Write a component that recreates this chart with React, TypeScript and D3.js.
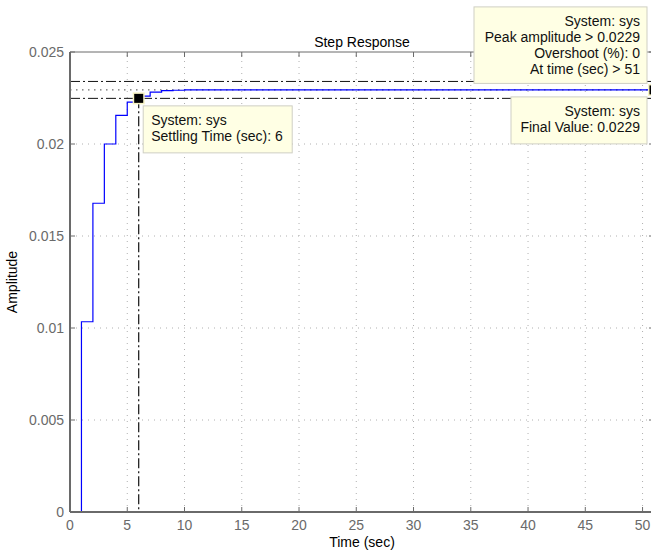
import React from 'react';
import * as d3 from 'd3';

// Step response of the discrete system (sample time 1 s)
const times = [0, 1, 2, 3, 4, 5, 6, 7, 8, 9, 10, 11, 12, 13, 14, 15, 16, 17, 18, 19, 20, 21, 22, 23, 24, 25,
  26, 27, 28, 29, 30, 31, 32, 33, 34, 35, 36, 37, 38, 39, 40, 41, 42, 43, 44, 45, 46, 47, 48, 49, 50, 51];
const amplitude = [0, 0.01034, 0.01678, 0.02, 0.02156, 0.02228, 0.0226, 0.02282, 0.0229, 0.02292, 0.02294,
  0.02294, 0.02294, 0.02294, 0.02294, 0.02294, 0.02294, 0.02294, 0.02294, 0.02294, 0.02294, 0.02294, 0.02294,
  0.02294, 0.02294, 0.02294, 0.02294, 0.02294, 0.02294, 0.02294, 0.02294, 0.02294, 0.02294, 0.02294, 0.02294,
  0.02294, 0.02294, 0.02294, 0.02294, 0.02294, 0.02294, 0.02294, 0.02294, 0.02294, 0.02294, 0.02294, 0.02294,
  0.02294, 0.02294, 0.02294, 0.02294, 0.02294];

const xTicks = [0, 5, 10, 15, 20, 25, 30, 35, 40, 45, 50];
const yTicks = [0, 0.005, 0.01, 0.015, 0.02, 0.025];
const yTickLabels = ['0', '0.005', '0.01', '0.015', '0.02', '0.025'];

const finalValue = 0.02294;
const bandUpper = 0.0234;
const bandLower = 0.02248;
const settlingTime = 6;
const peakTime = 51;

const settlingTip = ['System: sys', 'Settling Time (sec): 6'];
const peakTip = ['System: sys', 'Peak amplitude > 0.0229', 'Overshoot (%): 0', 'At time (sec) > 51'];
const finalTip = ['System: sys', 'Final Value: 0.0229'];

const W = 651;
const H = 554;
const margin = { top: 52, left: 70, bottom: 42 };
const plotRight = 654;

const x = d3.scaleLinear().domain([0, 51]).range([margin.left, plotRight]);
const y = d3.scaleLinear().domain([0, 0.025]).range([H - margin.bottom, margin.top]);

const font = '"Liberation Sans", Arial, Helvetica, sans-serif';
const axisColor = '#6a6a6a';
const tipFill = '#ffffe4';
const tipStroke = '#cfcfc4';

const Tip = ({ left, top, w, h, lines, align }: { left: number; top: number; w: number; h: number; lines: string[]; align: 'start' | 'end' }) => (
  <g>
    <rect x={left} y={top} width={w} height={h} fill={tipFill} stroke={tipStroke} strokeWidth={1} />
    {lines.map((t, i) => (
      <text key={i} x={align === 'start' ? left + 8 : left + w - 7} y={top + 19.5 + i * 16}
        textAnchor={align} fontSize={14} fill="#111">{t}</text>
    ))}
  </g>
);

const Marker = ({ cx, cy }: { cx: number; cy: number }) => (
  <g>
    <rect x={cx - 6} y={cy - 6} width={12} height={12} fill="#f7f3c4" />
    <rect x={cx - 4.5} y={cy - 4.5} width={9} height={9} fill="#000" />
  </g>
);

export default function App() {
  const line = d3.line<number>()
    .x((_, i) => x(times[i]))
    .y(d => y(d))
    .curve(d3.curveStepAfter);

  const y0 = y(0);
  const y1 = y(0.025);
  const sx = x(settlingTime);
  const sy = y(bandLower);
  const px = x(peakTime);
  const py = y(finalValue);

  return (
    <svg width={W} height={H} style={{ position: 'absolute', left: 0, top: 0, background: '#fff' }} fontFamily={font}>
      {/* grid */}
      {xTicks.filter(t => t > 0).map(t => (
        <line key={'gx' + t} x1={x(t)} x2={x(t)} y1={y0} y2={y1} stroke="#b0b0b0" strokeWidth={1} strokeDasharray="1,5" />
      ))}
      {yTicks.filter(t => t > 0 && t < 0.025).map(t => (
        <line key={'gy' + t} x1={margin.left} x2={plotRight} y1={y(t)} y2={y(t)} stroke="#b0b0b0" strokeWidth={1} strokeDasharray="1,5" />
      ))}

      {/* settling band and final value */}
      <line x1={margin.left} x2={plotRight} y1={y(bandUpper)} y2={y(bandUpper)} stroke="#111" strokeDasharray="10,3,2,3" />
      <line x1={margin.left} x2={plotRight} y1={y(bandLower)} y2={y(bandLower)} stroke="#111" strokeDasharray="10,3,2,3" />
      <line x1={sx} x2={sx} y1={sy} y2={y0} stroke="#111" strokeWidth={1.2} strokeDasharray="10,3,2,3" />
      <line x1={margin.left} x2={plotRight} y1={py} y2={py} stroke="#444" strokeDasharray="1.5,4.5" />

      {/* response */}
      <path d={line(amplitude) || ''} fill="none" stroke="#0000ff" strokeWidth={1.2} />

      {/* axes */}
      <line x1={margin.left} x2={plotRight} y1={y0} y2={y0} stroke={axisColor} strokeWidth={2} />
      <line x1={margin.left} x2={plotRight} y1={y1} y2={y1} stroke={axisColor} strokeWidth={1} />
      <line x1={margin.left} x2={margin.left} y1={y0} y2={y1} stroke={axisColor} strokeWidth={2} />
      <line x1={plotRight} x2={plotRight} y1={y0} y2={y1} stroke={axisColor} strokeWidth={1} />
      {xTicks.map(t => (
        <g key={'tx' + t}>
          <line x1={x(t)} x2={x(t)} y1={y0} y2={y0 - 5} stroke={axisColor} />
          <line x1={x(t)} x2={x(t)} y1={y1} y2={y1 + 5} stroke={axisColor} />
          <text x={x(t)} y={y0 + 18} textAnchor="middle" fontSize={14} fill={axisColor}>{t}</text>
        </g>
      ))}
      {yTicks.map((t, i) => (
        <g key={'ty' + t}>
          <line x1={margin.left} x2={margin.left + 5} y1={y(t)} y2={y(t)} stroke={axisColor} />
          <line x1={plotRight} x2={plotRight - 5} y1={y(t)} y2={y(t)} stroke={axisColor} />
          <text x={margin.left - 6} y={y(t) + 5} textAnchor="end" fontSize={14} fill={axisColor}>{yTickLabels[i]}</text>
        </g>
      ))}

      {/* labels */}
      <text x={(margin.left + plotRight) / 2} y={y1 - 5} textAnchor="middle" fontSize={14} fill="#000">Step Response</text>
      <text x={(margin.left + plotRight) / 2} y={H - 7} textAnchor="middle" fontSize={14} fill="#000">Time (sec)</text>
      <text transform={`translate(17,${(y0 + y1) / 2}) rotate(-90)`} textAnchor="middle" fontSize={14} fill="#000">Amplitude</text>

      {/* data tips */}
      <Tip left={sx + 4.5} top={sy + 7.5} w={149} h={47} lines={settlingTip} align="start" />
      <Marker cx={sx} cy={sy} />
      <Tip left={px - 180} top={py - 83} w={173} h={76.5} lines={peakTip} align="end" />
      <Tip left={px - 143} top={py + 7} w={136} h={47} lines={finalTip} align="end" />
      <Marker cx={px} cy={py} />
    </svg>
  );
}
